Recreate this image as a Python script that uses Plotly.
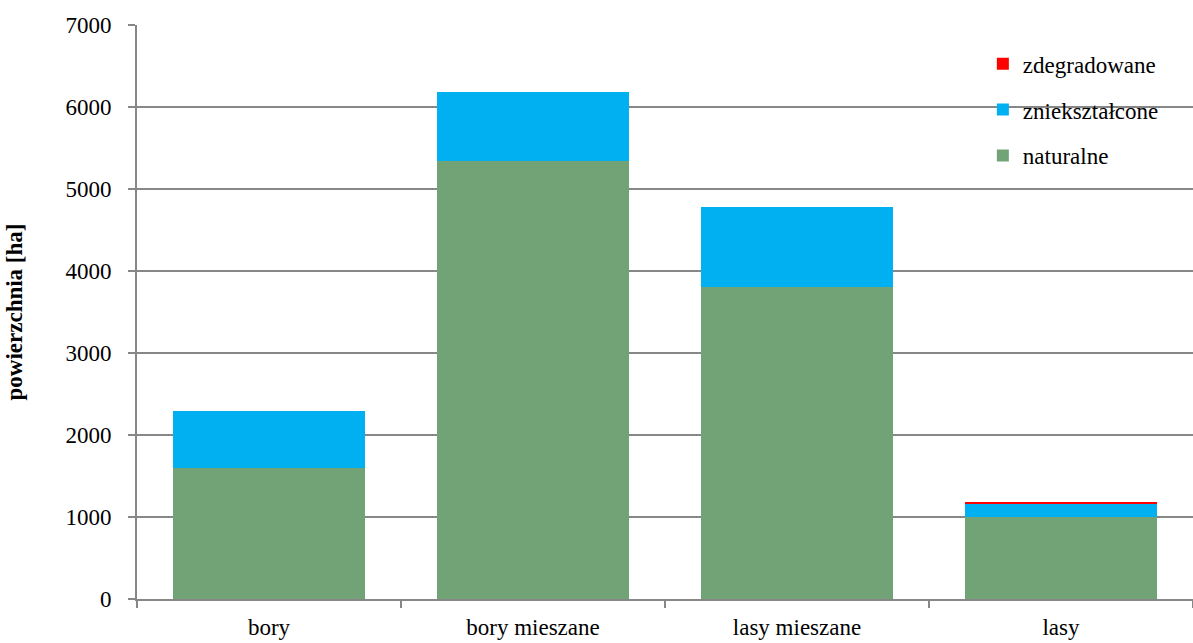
import plotly.graph_objects as go

categories = ["bory", "bory mieszane", "lasy mieszane", "lasy"]
naturalne = [1600, 5340, 3805, 1000]
znieksztalcone = [693, 843, 975, 168]
zdegradowane = [0, 0, 0, 15]

FONT = "'Liberation Serif', 'DejaVu Serif', serif"
GRID = "#878787"
FS = 23

fig = go.Figure()
fig.add_trace(go.Bar(name="naturalne", x=categories, y=naturalne, legendrank=3,
                     marker=dict(color="#71A376", line=dict(width=0)), legendgroup="a"))
fig.add_trace(go.Bar(name="zniekształcone", x=categories, y=znieksztalcone, legendrank=2,
                     marker=dict(color="#00B0F0", line=dict(width=0)), legendgroup="b"))
fig.add_trace(go.Bar(name="zdegradowane", x=categories, y=zdegradowane, legendrank=1,
                     marker=dict(color="#FF0000", line=dict(width=0)), legendgroup="c"))

fig.update_layout(
    barmode="stack",
    bargap=0.27,
    width=1193, height=643,
    margin=dict(l=137, r=0, t=25, b=44),
    paper_bgcolor="white", plot_bgcolor="white",
    font=dict(family=FONT, size=FS, color="#000000"),
    legend=dict(x=0.801, y=0.97, xanchor="left", yanchor="top",
                traceorder="grouped", tracegroupgap=13,
                font=dict(family=FONT, size=FS), bgcolor="rgba(0,0,0,0)"),
    xaxis=dict(showline=True, linecolor=GRID, linewidth=2,
               ticks="outside", tickson="boundaries", ticklen=7, tickcolor=GRID,
               tickwidth=2, tickfont=dict(family=FONT, size=FS), ticklabelstandoff=6),
    yaxis=dict(range=[0, 7000], dtick=1000, showgrid=True, gridcolor=GRID, gridwidth=2,
               showline=True, linecolor=GRID, linewidth=2, zeroline=False,
               ticks="outside", ticklen=7, tickcolor=GRID, tickwidth=2,
               tickfont=dict(family=FONT, size=FS), ticklabelstandoff=12,
               title=dict(text="<b>powierzchnia [ha]</b>", font=dict(family=FONT, size=FS),
                          standoff=36)),
)

fig.write_html("out.html")
